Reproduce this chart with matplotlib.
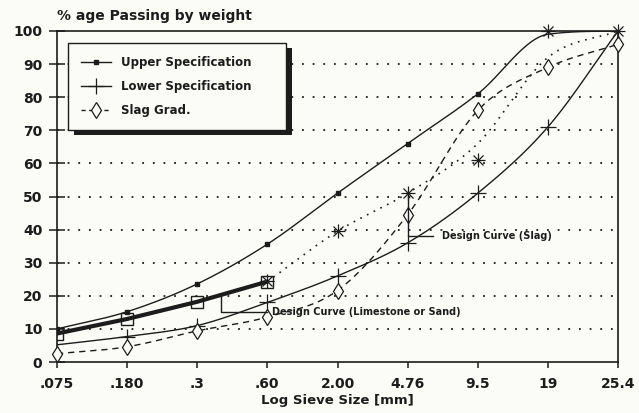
import numpy as np
import matplotlib
matplotlib.use('Agg')
import matplotlib.pyplot as plt
from matplotlib.patches import Rectangle
from matplotlib.transforms import IdentityTransform
from matplotlib.lines import Line2D

# ---------------- data ----------------
sieve_labels = ['.075', '.180', '.3', '.60', '2.00', '4.76', '9.5', '19', '25.4']
upper_spec = [10, 15.2, 23.6, 35.6, 51, 66, 81, 99, 100]
lower_spec = [5.2, 7.7, 11, 18, 26, 36, 51, 71, 100]
slag_grad = [2.5, 4.6, 9.4, 13.6, 21.6, 44.5, 76, 89, 96]
design_limestone = [8.6, 13, 18.2, 24.3]            # sieves .075 - .60
design_dotted = [24.3, 39.5, 51, 66, 92, 100]       # sieves .60 - 25.4
star_points = [24.5, 39.5, 51, 61, 100, 100]        # sieves .60 - 25.4
y_ticks = [0, 10, 20, 30, 40, 50, 60, 70, 80, 90, 100]

INK = '#1c1c1c'
BG = '#fbfbf8'
plt.rcParams['font.family'] = ['DejaVu Sans']
plt.rcParams['font.weight'] = 'bold'


def smooth(xs, ys, n=30):
    """Monotone cubic Hermite curve through the given points (for drawing)."""
    xs = np.asarray(xs, float)
    ys = np.asarray(ys, float)
    h = np.diff(xs)
    d = np.diff(ys) / h
    m = np.zeros_like(ys)
    m[1:-1] = (d[:-1] + d[1:]) / 2
    m[0] = d[0]
    m[-1] = d[-1]
    for i in range(len(d)):
        if d[i] == 0:
            m[i] = m[i + 1] = 0
        else:
            a = m[i] / d[i]
            b = m[i + 1] / d[i]
            s = a * a + b * b
            if s > 9:
                t = 3 / np.sqrt(s)
                m[i] = t * a * d[i]
                m[i + 1] = t * b * d[i]
    X, Y = [], []
    for i in range(len(d)):
        t = np.linspace(0, 1, n, endpoint=False)
        h00 = 2 * t**3 - 3 * t**2 + 1
        h10 = t**3 - 2 * t**2 + t
        h01 = -2 * t**3 + 3 * t**2
        h11 = t**3 - t**2
        X.append(xs[i] + t * h[i])
        Y.append(h00 * ys[i] + h10 * h[i] * m[i] + h01 * ys[i + 1] + h11 * h[i] * m[i + 1])
    X.append([xs[-1]])
    Y.append([ys[-1]])
    return np.concatenate(X), np.concatenate(Y)


x = np.arange(len(sieve_labels))

fig = plt.figure(figsize=(6.39, 4.13), dpi=100, facecolor=BG)
ax = fig.add_axes([57 / 639, 1 - 362 / 413, (618 - 57) / 639, (362 - 31) / 413])
ax.set_facecolor(BG)

# grid
for yv in y_ticks[1:-1]:
    ax.axhline(yv, color=INK, lw=1.3, linestyle=(0, (1, 4.9)), zorder=1)

# upper specification
sx, sy = smooth(x, upper_spec)
ax.plot(sx, sy, color=INK, lw=1.0, zorder=3)
ax.plot(x[:-2], upper_spec[:-2], linestyle='none', marker='s', ms=3, color=INK, zorder=4)

# lower specification
sx, sy = smooth(x, lower_spec)
ax.plot(sx, sy, color=INK, lw=1.0, zorder=3)
ax.plot(x[1:], lower_spec[1:], linestyle='none', marker='+', ms=12, mew=0.9, color=INK, zorder=4)

# slag gradation
sx, sy = smooth(x, slag_grad)
ax.plot(sx, sy, color=INK, lw=1.0, linestyle=(0, (4.5, 3.5)), zorder=3)
ax.plot(x, slag_grad, linestyle='none', marker='d', ms=8, mew=0.9,
        mfc=BG, color=INK, zorder=4, clip_on=False)

# design curve (limestone or sand): thick part
xl = x[:len(design_limestone)]
ax.plot(xl, design_limestone, color=INK, lw=3.0, zorder=3,
        marker='s', ms=9, mfc='none', mew=1.0, solid_capstyle='round')

# dotted continuation
xd = x[3:3 + len(design_dotted)]
sx, sy = smooth(xd, design_dotted)
ax.plot(sx, sy, color=INK, lw=1.2, linestyle=(0, (1, 3.5)), zorder=3)

# asterisk points
xs_ = x[3:3 + len(star_points)]
ax.plot(xs_, star_points, linestyle='none', marker='+', ms=10, mew=0.9, color=INK, zorder=5, clip_on=False)
ax.plot(xs_, star_points, linestyle='none', marker='x', ms=7, mew=0.9, color=INK, zorder=5, clip_on=False)

# annotation brackets
ax.plot([5, 5, 5.36], [50.5, 38, 38], color=INK, lw=1.0, zorder=4)
ax.text(5.49, 38, 'Design Curve (Slag)', fontsize=7, fontweight='bold',
        va='center', ha='left', color=INK, zorder=6)
ax.plot([2.34, 2.34, 3.0], [20.3, 15.2, 15.2], color=INK, lw=1.0, zorder=4)
ax.text(3.07, 15.2, 'Design Curve (Limestone or Sand)', fontsize=7, fontweight='bold',
        va='center', ha='left', color=INK, zorder=6)

# axes
ax.set_xlim(0, 8)
ax.set_ylim(0, 100)
ax.set_xticks(x)
ax.set_xticklabels(sieve_labels)
ax.set_yticks(y_ticks)
for sp in ax.spines.values():
    sp.set_color(INK)
    sp.set_linewidth(1.2)
ax.tick_params(axis='y', direction='inout', length=11, width=1.1, colors=INK,
               labelsize=10, pad=5)
ax.tick_params(axis='x', direction='out', length=4, width=1.1, colors=INK,
               labelsize=10, pad=7)
for lab in ax.get_xticklabels() + ax.get_yticklabels():
    lab.set_fontweight('bold')

ax.set_xlabel('Log Sieve Size [mm]', fontsize=9.5, fontweight='bold', color=INK, labelpad=2)
ax.text(0, 1.045, '% age Passing by weight', transform=ax.transAxes, fontsize=10,
        fontweight='bold', ha='left', va='center', color=INK)

# legend
handles = [
    Line2D([], [], color=INK, lw=1.0, marker='s', ms=3),
    Line2D([], [], color=INK, lw=1.0, marker='+', ms=12, mew=0.9),
    Line2D([], [], color=INK, lw=1.0, linestyle=(0, (3, 2.5)), marker='d', ms=8,
           mfc=BG, mew=0.9),
]
labels = ['Upper Specification', 'Lower Specification', 'Slag Grad.']
leg = ax.legend(handles, labels, loc='upper left',
                bbox_to_anchor=(68 / 639, 1 - 43 / 413 - 0.1, 218 / 639, 0.1),
                bbox_transform=fig.transFigure, mode='expand', borderaxespad=0,
                numpoints=1, handlelength=2.5, handletextpad=0.9, borderpad=1.1,
                labelspacing=0.93, fancybox=False, framealpha=1,
                prop={'size': 8.5, 'weight': 'bold'})
leg.get_frame().set_edgecolor(INK)
leg.get_frame().set_linewidth(1.0)
leg.get_frame().set_facecolor(BG)
for t in leg.get_texts():
    t.set_color(INK)
leg.set_zorder(10)

fig.canvas.draw()
bb = leg.get_window_extent()
ax.add_patch(Rectangle((bb.x0 + 6, bb.y0 - 5), bb.width, bb.height,
                       transform=IdentityTransform(), facecolor=INK,
                       edgecolor='none', zorder=9, clip_on=False))

fig.savefig('out.png', dpi=100, facecolor=BG)
